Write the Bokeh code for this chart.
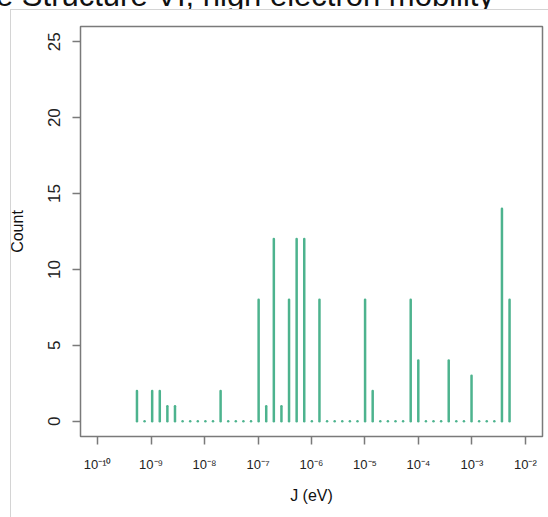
import numpy as np
from bokeh.plotting import figure
from bokeh.layouts import column
from bokeh.models import (Range1d, FixedTicker, CustomJSTickFormatter, Div,
                          ColumnDataSource, InlineStyleSheet)
from bokeh.embed import file_html
from bokeh.resources import INLINE

# Histogram of exchange couplings J on a log scale:
# bins are equally spaced in log10(J)
log_first_bin = -9.264   # log10 of the centre of the first bin
log_bin_step = 0.1422    # width of one bin in log10 units
counts = [2, 0, 2, 2, 1, 1, 0, 0, 0, 0, 0, 2, 0, 0, 0, 0,
          8, 1, 12, 1, 8, 12, 12, 0, 8, 0, 0, 0, 0, 0, 8, 2,
          0, 0, 0, 0, 8, 4, 0, 0, 0, 4, 0, 0, 3, 0, 0, 0, 14, 8]
x_tick_exponents = [-10, -9, -8, -7, -6, -5, -4, -3, -2]
y_ticks = [0, 5, 10, 15, 20, 25]
title_text = "e Structure VI, high electron mobility"

bin_centres = 10.0 ** (log_first_bin + log_bin_step * np.arange(len(counts)))
src = ColumnDataSource(dict(x=bin_centres, top=counts, base=[0] * len(counts)))

FONT = "Liberation Sans"
GREY = "#7a7a7a"
BAR = "#4db38e"

# thin light panel border (left and top edges) around the plotting area
panel_css = InlineStyleSheet(css="""
:host::after {
  content: "";
  position: absolute;
  left: 10px; top: 0px; right: -5px; bottom: -5px;
  border-left: 1px solid #d4d4d4;
  border-top: 1px solid #d4d4d4;
  pointer-events: none;
}
""")

# title strip: only the lower part of the large title line fits in it
title_div = Div(
    text=(f'<div style="position:relative; top:-20px; left:-4px; white-space:nowrap; '
          f'font-family:\'{FONT}\'; font-size:31px; line-height:31px; color:#111111;">'
          f'{title_text}</div>'),
    width=548, height=9, margin=0, styles={"overflow": "hidden"})

p = figure(width=548, height=508, x_axis_type="log",
           x_range=Range1d(10 ** -10.32, 10 ** -1.68), y_range=Range1d(-1, 26),
           output_backend="svg", toolbar_location=None,
           min_border_left=80, min_border_right=6, min_border_top=17,
           min_border_bottom=81, stylesheets=[panel_css], margin=0)
p.xgrid.visible = False
p.ygrid.visible = False
p.background_fill_color = "white"
p.border_fill_color = "white"
p.outline_line_color = GREY
p.outline_line_width = 1.5

p.segment(x0="x", y0="base", x1="x", y1="top", source=src,
          line_color=BAR, line_width=2.5, line_cap="round")

# x axis: powers of ten with superscript exponents
p.xaxis.ticker = FixedTicker(ticks=[10.0 ** e for e in x_tick_exponents], minor_ticks=[])
p.xaxis.formatter = CustomJSTickFormatter(code="""
const e = Math.round(Math.log10(tick));
const sup = {'-':'\\u207b','0':'\\u2070','1':'\\u00b9','2':'\\u00b2','3':'\\u00b3',
             '4':'\\u2074','5':'\\u2075','6':'\\u2076','7':'\\u2077','8':'\\u2078','9':'\\u2079'};
return '10' + String(e).split('').map(c => sup[c]).join('');
""")
p.xaxis.axis_label = "J (eV)"

p.yaxis.ticker = FixedTicker(ticks=y_ticks, minor_ticks=[])
p.yaxis.major_label_orientation = "vertical"
p.yaxis.axis_label = "Count"

for ax in (p.xaxis[0], p.yaxis[0]):
    ax.axis_line_color = None
    ax.major_tick_line_color = GREY
    ax.major_tick_line_width = 1.5
    ax.major_tick_in = 0
    ax.major_tick_out = 8
    ax.minor_tick_line_color = None
    ax.major_label_text_font = FONT
    ax.major_label_text_color = "#222222"
    ax.axis_label_text_font = FONT
    ax.axis_label_text_font_style = "normal"
    ax.axis_label_text_font_size = "16px"
    ax.axis_label_text_color = "#111111"

p.xaxis.major_label_text_font_size = "13px"
p.xaxis.major_label_standoff = 12
p.xaxis.axis_label_standoff = 12
p.yaxis.major_label_text_font_size = "17px"
p.yaxis.major_label_standoff = 12
p.yaxis.axis_label_standoff = 20

layout = column(title_div, p, spacing=0, margin=0)

open("out.html", "w").write(file_html(layout, INLINE))
